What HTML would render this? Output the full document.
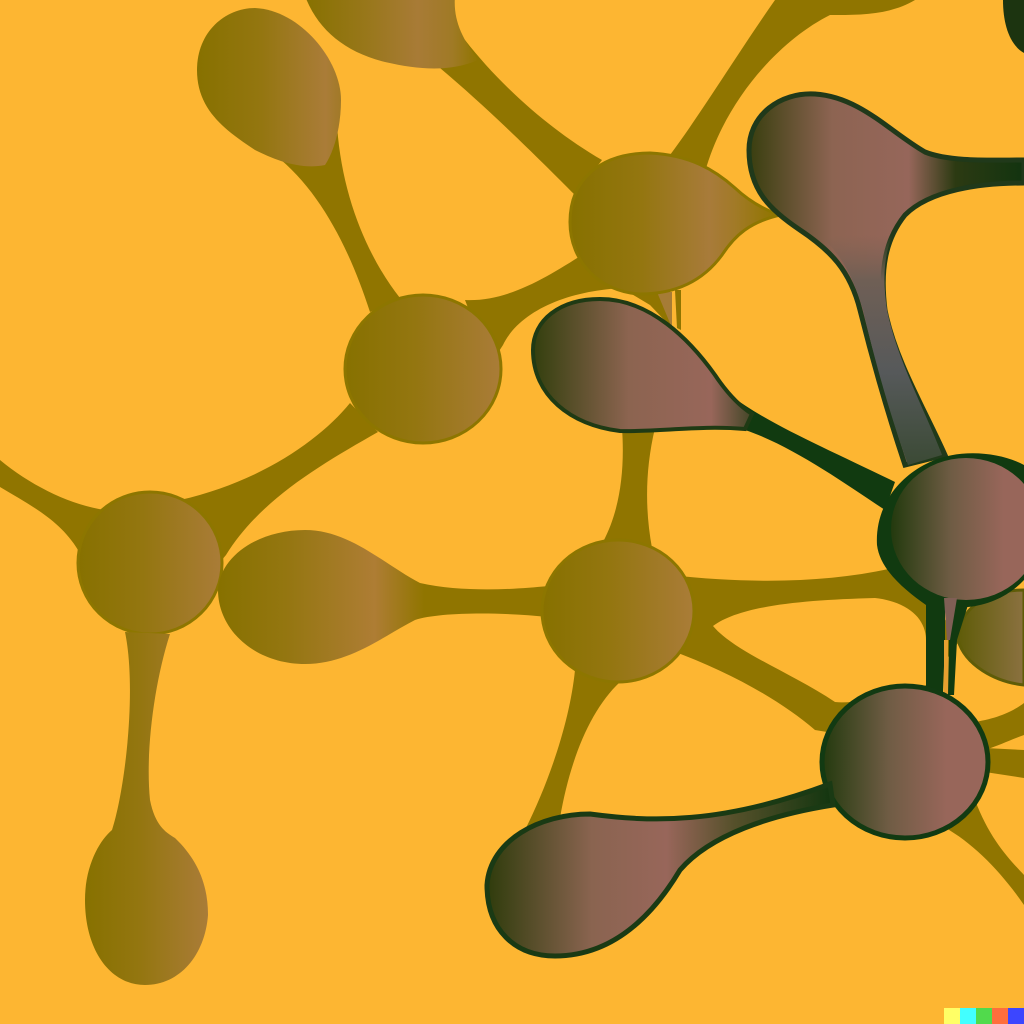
<!DOCTYPE html>
<html lang="en">
<head>
<meta charset="utf-8">
<title>Molecule illustration</title>
<style>
html,body{margin:0;padding:0;background:#fdb632;}
svg{display:block;}
</style>
</head>
<body>
<svg xmlns="http://www.w3.org/2000/svg" width="1024" height="1024" viewBox="0 0 1024 1024">
<defs>
<linearGradient id="olive" x1="0" x2="1" y1="0" y2="0">
<stop offset="0" stop-color="#877100"/><stop offset=".45" stop-color="#947610"/><stop offset="1" stop-color="#aa7c38"/>
</linearGradient>
<linearGradient id="oliveTopLeft" gradientUnits="userSpaceOnUse" x1="197" x2="340" y1="0" y2="0">
<stop offset="0" stop-color="#877100"/><stop offset=".45" stop-color="#947610"/><stop offset=".9" stop-color="#aa7c38"/><stop offset="1" stop-color="#a27a28"/>
</linearGradient>
<linearGradient id="oliveTopCenter" gradientUnits="userSpaceOnUse" x1="305" x2="478" y1="0" y2="0">
<stop offset="0" stop-color="#877100"/><stop offset=".35" stop-color="#98771a"/><stop offset=".65" stop-color="#a87b36"/><stop offset=".85" stop-color="#a07a26"/><stop offset="1" stop-color="#907500"/>
</linearGradient>
<linearGradient id="oliveUpper" gradientUnits="userSpaceOnUse" x1="570" x2="775" y1="0" y2="0">
<stop offset="0" stop-color="#877100"/><stop offset=".35" stop-color="#947610"/><stop offset=".68" stop-color="#a87b3a"/><stop offset=".8" stop-color="#a27a28"/><stop offset="1" stop-color="#907500"/>
</linearGradient>
<linearGradient id="oliveCenterLeft" gradientUnits="userSpaceOnUse" x1="219" x2="550" y1="0" y2="0">
<stop offset="0" stop-color="#877100"/><stop offset=".2" stop-color="#947610"/><stop offset=".47" stop-color="#ae7d34"/><stop offset=".62" stop-color="#907500"/><stop offset="1" stop-color="#907500"/>
</linearGradient>
<linearGradient id="dark" gradientUnits="objectBoundingBox" x1="0" x2="1" y1="0" y2="0">
<stop offset="0" stop-color="#233a0e"/><stop offset=".4" stop-color="#6f5c44"/><stop offset=".75" stop-color="#98665a"/><stop offset="1" stop-color="#98665a"/>
</linearGradient>
<linearGradient id="tearRight" gradientUnits="userSpaceOnUse" x1="750" x2="1024" y1="0" y2="0">
<stop offset="0" stop-color="#3a3f10"/><stop offset=".3" stop-color="#8d6452"/><stop offset=".58" stop-color="#96665a"/><stop offset=".75" stop-color="#2c3a12"/><stop offset="1" stop-color="#123410"/>
</linearGradient>
<linearGradient id="tearCenter" gradientUnits="userSpaceOnUse" x1="535" x2="770" y1="0" y2="0">
<stop offset="0" stop-color="#35400f"/><stop offset=".4" stop-color="#8c6450"/><stop offset=".75" stop-color="#98665a"/><stop offset="1" stop-color="#1c3810"/>
</linearGradient>
<linearGradient id="tearBottom" gradientUnits="userSpaceOnUse" x1="490" x2="830" y1="0" y2="0">
<stop offset="0" stop-color="#323d0e"/><stop offset=".3" stop-color="#8a6450"/><stop offset=".52" stop-color="#98665a"/><stop offset=".72" stop-color="#55502a"/><stop offset="1" stop-color="#143610"/>
</linearGradient>
<linearGradient id="stemGrey" gradientUnits="userSpaceOnUse" x1="0" x2="0" y1="235" y2="465">
<stop offset="0" stop-color="#7a6052" stop-opacity="0"/><stop offset=".2" stop-color="#6f5f55"/><stop offset=".6" stop-color="#56595a"/><stop offset="1" stop-color="#3b4a35"/>
</linearGradient>
<linearGradient id="edgeBlob" x1="0" x2="1" y1="0" y2="0">
<stop offset="0" stop-color="#5f5c08"/><stop offset="1" stop-color="#8b7140"/>
</linearGradient>
</defs>

<rect width="1024" height="1024" fill="#fdb632"/>

<g fill="#907500">
<path d="M465,40C500,85 550,130 602,160L575,195C540,160 490,110 440,68L420,40Z"/>
<path d="M670,155C700,115 740,50 775,0L915,0C890,15 860,15 830,15C780,40 725,100 705,172Z"/>
<path d="M337,125C342,200 370,260 400,298L370,312C350,250 320,190 275,155Z"/>
<path d="M465,300C510,302 550,275 590,250L625,288C570,290 520,310 503,345L490,365Z"/>
<path d="M180,500C260,482 320,440 350,403L378,432C320,465 260,500 226,555L205,580Z"/>
<path d="M0,460C30,485 70,505 105,510L78,550C60,520 30,505 0,487Z"/>
<path d="M622,428L655,428C645,470 645,510 652,548L603,542C620,510 625,470 622,428Z"/>
<path d="M670,575C760,585 840,582 905,565L960,640L925,690L845,735L815,730C780,700 730,672 670,650Z"/>
<path d="M575,670L620,682C590,710 570,760 560,818L525,830C550,780 570,720 575,670Z"/>
<path d="M975,722C1000,718 1015,710 1024,703L1024,735C1010,740 1000,745 985,750Z"/>
<path d="M985,748L1024,750L1024,778L985,772Z"/>
<path d="M975,800C990,840 1010,860 1024,875L1024,905C1000,870 970,840 940,825Z"/>
<path d="M625,290L660,292L672,328L650,305Z"/>
<path fill="#a67c36" d="M657,292L672,292L672,328Z"/>
<path d="M675,290L681,290L681,330L677,328Z"/>
</g>
<path fill="#fdb632" d="M713,626C740,606 800,600 875,598C910,602 926,620 926,640L928,685C890,690 860,705 835,702C790,672 735,652 713,626Z"/>

<g stroke="#8d7600" stroke-width="3">
<path fill="url(#oliveTopLeft)" stroke="none" d="M197,70C197,32 225,8 255,8C300,10 341,60 341,100C341,125 335,150 325,165C300,170 275,160 255,150C225,130 197,110 197,70Z"/>
<path fill="url(#oliveTopCenter)" stroke="none" d="M305,-4L455,-4C453,20 462,38 478,60C450,72 420,70 385,62C345,52 318,30 305,-4Z"/>
<path fill="url(#oliveUpper)" d="M570,222C570,180 600,153 650,153C690,155 715,170 735,188C750,202 765,210 780,215C750,222 735,235 722,255C700,285 670,294 640,294C600,292 570,262 570,222Z"/>
<ellipse fill="url(#olive)" cx="423" cy="369" rx="78" ry="74"/>
<ellipse fill="url(#olive)" cx="150" cy="563" rx="72" ry="71"/>
<path fill="url(#olive)" stroke="none" d="M125,632L170,634C155,680 145,750 150,800C155,825 165,832 175,838C198,860 208,885 208,915C205,955 180,985 145,985C110,985 85,950 85,900C85,865 100,840 112,830C125,790 137,690 125,632Z"/>
<path fill="url(#oliveCenterLeft)" stroke="none" d="M218,590C220,555 260,530 305,530C350,530 385,565 420,583C460,592 510,590 548,586L548,617C500,612 440,612 415,620C385,635 350,664 305,664C255,664 218,630 218,590Z"/>
<ellipse fill="url(#olive)" cx="618" cy="611" rx="76" ry="71"/>
</g>
<path fill="url(#edgeBlob)" stroke="#5f5c08" stroke-width="3" d="M1024,590C985,590 958,610 958,640C965,665 995,682 1024,685Z"/>

<path fill="url(#tearRight)" stroke="#20391a" stroke-width="5" d="M749,150C749,115 780,92 815,94C860,97 890,132 925,152C950,162 990,160 1024,160L1024,183C980,183 930,190 905,215C885,240 880,270 885,310C895,360 925,410 945,455L905,465C890,420 875,370 860,310C850,270 830,250 800,230C770,210 749,190 749,150Z"/>
<path fill="url(#stemGrey)" d="M825,240L905,215C885,240 881,270 887,310C897,360 925,410 942,455L908,465C892,420 877,370 863,310C853,275 840,255 825,240Z"/>
<path fill="#1c3410" d="M1003,0L1024,0L1024,53C1010,45 1003,25 1003,0Z"/>

<path fill="#113a10" d="M730,395C770,425 830,450 895,482L885,510C840,480 790,445 745,430Z"/>
<path fill="url(#tearCenter)" stroke="#1f3a14" stroke-width="4" d="M533,350C533,320 560,299 600,299C650,299 690,340 715,375C725,390 738,405 752,414L745,429C700,425 660,432 620,431C570,425 533,395 533,350Z"/>

<path fill="#113a10" d="M1024,465C1000,452 960,448 930,462C895,478 875,510 877,545C880,570 905,590 926,605L968,607C990,605 1010,595 1024,580Z"/>
<path fill="#113a10" d="M926,600L945,600L945,640L943,692L926,692Z"/>
<path fill="#113a10" d="M956,600L968,605L957,640L954,695L948,695L949,640Z"/>
<rect x="944" y="640" width="4" height="55" fill="#e8a030"/>
<ellipse fill="url(#dark)" cx="966" cy="529" rx="75" ry="71"/>
<path fill="#7f5f55" d="M944,598L957,598L950,640L947,640Z"/>

<ellipse fill="url(#dark)" stroke="#123a12" stroke-width="5" cx="905" cy="762" rx="83" ry="76"/>

<path fill="url(#tearBottom)" stroke="#1a3a14" stroke-width="5" d="M487,885C490,840 540,814 590,814C650,822 720,825 830,784L833,805C770,815 710,835 680,870C650,920 610,956 555,956C515,956 487,930 487,885Z"/>

<g>
<rect x="944" y="1008" width="16" height="16" fill="#ffff66"/>
<rect x="960" y="1008" width="16" height="16" fill="#42ffff"/>
<rect x="976" y="1008" width="16" height="16" fill="#51da4c"/>
<rect x="992" y="1008" width="16" height="16" fill="#ff6e3c"/>
<rect x="1008" y="1008" width="16" height="16" fill="#3c46ff"/>
</g>
</svg>
</body>
</html>
